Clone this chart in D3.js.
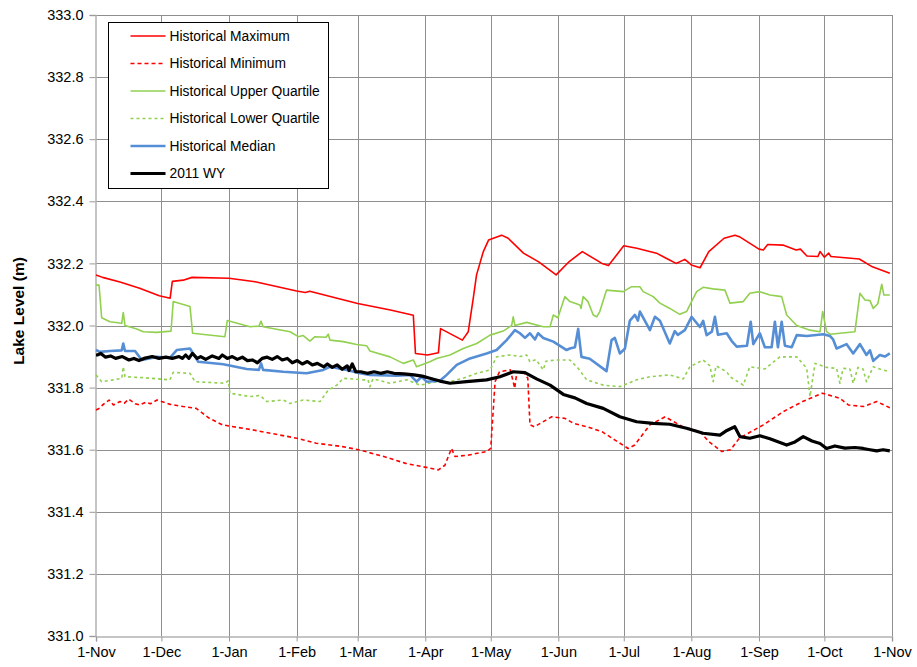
<!DOCTYPE html>
<html>
<head>
<meta charset="utf-8">
<script src="https://cdn.jsdelivr.net/npm/d3@7"></script>
<style>
  body { margin: 0; background: #fff; }
  text { font-family: "Liberation Sans", Arial, sans-serif; fill: #000; }
</style>
</head>
<body>
<div id="chart"></div>
<script>
// water year starts 1-Nov-2010, points are [day since start, lake level m]
var startDate = new Date(2010, 10, 1);
var endDate = new Date(2011, 10, 1);

var histMax = [[0,332.163],[3,332.155],[11,332.14],[20,332.12],[29,332.096],[34,332.088],[35,332.142],[40,332.146],[44,332.155],[61,332.152],[73,332.141],[92,332.111],[96,332.106],[98,332.11],[120,332.071],[135,332.05],[145.5,332.033],[146.5,331.91],[152,331.905],[157,331.912],[158,331.99],[168,331.953],[170.7,331.98],[173,332.088],[174.5,332.163],[177.6,332.238],[180,332.275],[186,332.291],[189,332.281],[196,332.233],[203,332.205],[211,332.163],[217,332.206],[223,332.238],[232,332.2],[235,332.193],[242,332.257],[248,332.249],[257,332.233],[263,332.211],[266,332.2],[270,332.213],[273,332.195],[277,332.186],[281,332.238],[288,332.281],[293,332.291],[295,332.286],[304,332.246],[306,332.243],[308,332.261],[315,332.259],[321,332.243],[323,332.246],[326,332.224],[331,332.222],[332,332.238],[334,332.22],[336,332.233],[337,332.222],[350,332.214],[356,332.189],[364,332.168]];

var histMin = [[0,331.728],[2,331.735],[3,331.744],[6,331.76],[8,331.744],[11,331.755],[13,331.75],[15,331.763],[18,331.748],[20,331.744],[23,331.753],[25,331.748],[28,331.76],[34,331.746],[40,331.739],[46,331.733],[52,331.701],[58,331.68],[63,331.674],[71,331.665],[80,331.653],[92,331.637],[101,331.621],[113,331.61],[121,331.599],[132,331.578],[142,331.556],[150,331.545],[157,331.535],[160,331.55],[163,331.604],[164.6,331.578],[171,331.583],[179,331.594],[181,331.604],[183,331.819],[185,331.851],[190,331.857],[192,331.798],[193,331.851],[196,331.851],[198,331.83],[199,331.68],[201,331.674],[209,331.706],[215,331.701],[219,331.685],[225,331.674],[232,331.658],[238,331.631],[244,331.604],[247,331.615],[254,331.68],[261,331.706],[269,331.674],[277,331.658],[281,331.626],[287,331.594],[291,331.6],[295,331.637],[306,331.68],[315,331.722],[324,331.755],[333,331.782],[341,331.766],[345,331.744],[352,331.739],[358,331.755],[364,331.735]];

var histUpper = [[0,332.13],[1.4,332.13],[2.6,332.025],[6.4,332.012],[11.8,332.007],[12.5,332.042],[13.3,332.0],[18.7,331.989],[21.7,331.98],[27.8,331.978],[34.4,331.982],[35.4,332.077],[43.1,332.061],[44.3,331.975],[59.1,331.964],[60.2,332.016],[70.6,331.996],[74.7,331.998],[75.7,332.014],[76.6,331.996],[89,331.98],[92.8,331.964],[94.9,331.968],[98.1,331.95],[100.4,331.964],[105.5,331.962],[106.5,331.972],[107.3,331.953],[113.4,331.948],[119.5,331.939],[124.1,331.935],[125.6,331.918],[134.8,331.899],[140.9,331.878],[145.5,331.889],[147,331.867],[153.1,331.883],[156.2,331.894],[162.3,331.905],[168.4,331.926],[174.6,331.942],[180.7,331.969],[186.7,331.982],[190.6,332.0],[191.3,332.028],[192.1,332.0],[197.5,332.01],[205.1,331.996],[208.2,331.996],[209.7,332.034],[211.8,332.025],[215,332.093],[217.3,332.077],[221.9,332.066],[222.4,332.055],[223.4,332.093],[225.6,332.077],[228,332.034],[229.6,332.028],[231,332.045],[234.1,332.114],[241.8,332.109],[245.6,332.125],[249.4,332.125],[250.9,332.109],[255.5,332.093],[258.6,332.072],[263.1,332.055],[267.7,332.036],[270.8,332.045],[275.4,332.109],[278.4,332.123],[282.9,332.118],[288.4,332.114],[290.7,332.072],[296.8,332.077],[299.8,332.104],[304.4,332.109],[309,332.098],[314.4,332.093],[316.7,332.034],[321.3,332.0],[327.4,331.985],[332,331.98],[333.2,332.045],[335,331.98],[336.6,331.972],[348,331.98],[350.3,332.104],[352.6,332.082],[354.9,332.08],[356.4,332.055],[358.5,332.07],[360.3,332.133],[361.3,332.098],[364,332.098]];

var histLower = [[0,331.841],[2.6,331.819],[7.9,331.825],[11.8,331.83],[12.5,331.867],[13.3,331.835],[21.7,331.832],[33.9,331.825],[35.4,331.849],[43.1,331.846],[45.4,331.819],[59.1,331.814],[60.7,331.822],[61.4,331.782],[70.6,331.771],[75.2,331.775],[78.3,331.755],[85.9,331.76],[89,331.749],[95,331.76],[102.7,331.755],[106.5,331.792],[110.4,331.808],[113.4,331.83],[122.6,331.825],[124.7,331.825],[125.6,331.803],[127,331.828],[134.8,331.814],[142.5,331.825],[148.6,331.808],[156.2,331.819],[162.3,331.819],[168.4,331.83],[174.6,331.846],[180.7,331.857],[183.7,331.899],[189.8,331.905],[194.4,331.9],[197.5,331.905],[199,331.883],[201.8,331.89],[205.1,331.857],[206.3,331.885],[211.2,331.889],[217.3,331.889],[221.1,331.862],[225,331.825],[232.6,331.808],[240.2,331.803],[247.9,331.825],[254,331.835],[263.1,331.841],[269.3,331.828],[272.3,331.867],[278.4,331.889],[281.5,331.87],[283,331.819],[284.3,331.87],[289.2,331.851],[290.7,331.835],[296.8,331.808],[299.8,331.867],[306.7,331.86],[313.6,331.899],[321.3,331.899],[325.9,331.862],[327.4,331.771],[329.7,331.878],[335,331.865],[339.6,331.862],[341.1,331.814],[342.6,331.862],[345.7,331.86],[347.2,331.814],[349.4,331.865],[351.7,331.86],[353.3,331.819],[356.4,331.867],[359.4,331.86],[364,331.851]];

var histMedian = [[0,331.921],[1.8,331.915],[6.4,331.918],[11.8,331.92],[12.5,331.942],[13.3,331.918],[17.9,331.918],[21,331.889],[27.8,331.899],[33.9,331.896],[37,331.921],[43.1,331.926],[46.9,331.883],[58.4,331.875],[69.1,331.86],[74.7,331.857],[75.7,331.878],[76.6,331.857],[85.9,331.851],[96.6,331.846],[104.2,331.857],[107.3,331.867],[115,331.857],[121,331.846],[125.6,331.841],[137.9,331.838],[144,331.841],[147,331.819],[149.3,331.835],[151.6,331.819],[157.7,331.822],[160.8,331.841],[165.4,331.873],[171.5,331.894],[179.1,331.91],[183.7,331.921],[188.3,331.953],[192.1,331.985],[194.4,331.975],[196.7,331.96],[199,331.975],[201.3,331.955],[202.7,331.975],[205.1,331.96],[209.7,331.948],[215.8,331.921],[217.3,331.926],[219.6,331.93],[221.1,331.989],[222.6,331.899],[226.4,331.893],[234.1,331.853],[236.4,331.953],[237.9,331.96],[240.2,331.91],[242.5,331.925],[244.8,332.016],[247.1,332.034],[248.5,332.016],[249.4,332.045],[251.7,332.015],[254,331.985],[256.3,332.028],[258.6,332.015],[263.1,331.942],[265.4,331.982],[266.8,331.97],[270,331.985],[273.1,332.028],[276.9,331.995],[278.4,332.015],[280,331.969],[282.4,331.98],[283.8,332.028],[285.2,331.97],[289.2,331.975],[291.5,331.95],[293.8,331.932],[298.5,331.935],[300.2,332.012],[301.4,331.94],[304.4,331.975],[306.7,331.93],[309.8,331.93],[311.3,332.012],[312.7,331.93],[314.4,332.012],[315.9,331.935],[319,331.93],[321.3,331.969],[325.9,331.966],[333.5,331.972],[336.6,331.966],[338,331.955],[339.6,331.926],[344.2,331.94],[347.2,331.91],[350.3,331.94],[353.3,331.905],[354.9,331.92],[356.4,331.886],[359.4,331.905],[361.7,331.9],[364,331.91]];

var wy2011 = [[0,331.905],[0.6,331.905],[2.2,331.91],[4.4,331.898],[6.7,331.902],[9,331.894],[12.1,331.9],[15.1,331.889],[17.4,331.894],[19.7,331.887],[22,331.894],[25.8,331.9],[28.9,331.894],[32,331.898],[35,331.894],[38.1,331.9],[39.6,331.894],[41.1,331.905],[42.6,331.894],[44.2,331.91],[46.4,331.894],[48,331.9],[50.3,331.891],[53.3,331.902],[56.4,331.894],[57.9,331.905],[60.2,331.894],[62.5,331.9],[64.8,331.891],[67.1,331.898],[69.4,331.887],[71.7,331.889],[74,331.88],[76.2,331.894],[78.5,331.898],[80.8,331.891],[83.1,331.9],[85.4,331.889],[87.7,331.894],[90,331.88],[92.3,331.887],[94.6,331.876],[96.9,331.884],[99.2,331.873],[101.5,331.878],[104.5,331.867],[106.1,331.876],[108.3,331.865],[110.6,331.873],[112.9,331.859],[115.2,331.87],[116,331.855],[117.5,331.876],[119.1,331.851],[121.4,331.851],[124.4,331.846],[127.5,331.851],[130.5,331.846],[133.6,331.851],[136.6,331.846],[141.2,331.844],[145.8,331.841],[149.6,331.837],[153.1,331.83],[157.7,331.821],[162.3,331.814],[169.9,331.819],[179.1,331.825],[185.2,331.835],[191.3,331.851],[196.7,331.848],[202,331.828],[208.2,331.808],[214.3,331.778],[219.6,331.767],[225,331.749],[232.6,331.733],[240.2,331.706],[247.9,331.69],[255.5,331.685],[263.1,331.682],[270.8,331.669],[278.4,331.653],[286.1,331.647],[289.3,331.662],[292.9,331.674],[295.3,331.642],[299.8,331.637],[304.4,331.645],[309,331.635],[316.7,331.615],[320.5,331.625],[324.3,331.642],[328.3,331.628],[332,331.62],[335,331.604],[338.8,331.612],[343.4,331.605],[348,331.607],[351.8,331.604],[354.9,331.6],[358,331.596],[360.9,331.6],[364,331.596]];

var yTicks = [331.0, 331.2, 331.4, 331.6, 331.8, 332.0, 332.2, 332.4, 332.6, 332.8, 333.0];

var series = [
  {name: "Historical Maximum", data: histMax, color: "#ff0000", width: 1.6, dash: ""},
  {name: "Historical Minimum", data: histMin, color: "#ff0000", width: 1.6, dash: "4 3"},
  {name: "Historical Upper Quartile", data: histUpper, color: "#92d050", width: 1.6, dash: ""},
  {name: "Historical Lower Quartile", data: histLower, color: "#92d050", width: 1.6, dash: "3 3"},
  {name: "Historical Median", data: histMedian, color: "#558ed5", width: 2.6, dash: ""},
  {name: "2011 WY", data: wy2011, color: "#000000", width: 3.2, dash: ""}
];

var width = 917;
var height = 667;
var margin = {top: 15, right: 25, bottom: 31, left: 96};

var svg = d3.select("#chart")
  .append("svg")
    .attr("width", width)
    .attr("height", height);

var x = d3.scaleTime()
  .domain([startDate, endDate])
  .range([margin.left, width - margin.right]);

var y = d3.scaleLinear()
  .domain([331.0, 333.0])
  .range([height - margin.bottom, margin.top]);

function toDate(day) {
  return new Date(startDate.getTime() + day * 864e5);
}

var monthTicks = d3.timeMonth.range(startDate, d3.timeDay.offset(endDate, 1));

// gridlines
var grid = svg.append("g").attr("stroke", "#8f8f8f").attr("stroke-width", 1);
grid.selectAll(".hgrid")
  .data(yTicks.slice(1))
  .enter().append("line")
    .attr("x1", margin.left)
    .attr("x2", width - margin.right)
    .attr("y1", function (d) { return Math.round(y(d)) + 0.5; })
    .attr("y2", function (d) { return Math.round(y(d)) + 0.5; });
grid.selectAll(".vgrid")
  .data(monthTicks.slice(1))
  .enter().append("line")
    .attr("x1", function (d) { return Math.round(x(d)) + 0.5; })
    .attr("x2", function (d) { return Math.round(x(d)) + 0.5; })
    .attr("y1", margin.top)
    .attr("y2", height - margin.bottom);

// axes
var yAxis = svg.append("g")
  .attr("transform", "translate(" + (margin.left - 0.5) + ",0)")
  .call(d3.axisLeft(y).tickValues(yTicks).tickFormat(d3.format(".1f")).tickSize(6).tickPadding(6));

var xAxis = svg.append("g")
  .attr("transform", "translate(0," + (Math.round(y(331.0)) + 0.5) + ")")
  .call(d3.axisBottom(x).tickValues(monthTicks).tickFormat(d3.timeFormat("1-%b")).tickSize(5).tickPadding(5));

[yAxis, xAxis].forEach(function (a) {
  a.select(".domain").attr("stroke", "#b3b3b3").attr("stroke-width", 1.5);
  a.selectAll(".tick line").attr("stroke", "#999");
  a.selectAll(".tick text")
    .style("font-family", "'Liberation Sans', Arial, sans-serif")
    .style("font-size", "14.5px")
    .attr("fill", "#000");
});

svg.append("text")
  .attr("transform", "translate(24," + 311 + ") rotate(-90)")
  .attr("text-anchor", "middle")
  .style("font-size", "15.5px")
  .style("font-weight", "bold")
  .text("Lake Level (m)");

// series lines
var line = d3.line()
  .x(function (d) { return x(toDate(d[0])); })
  .y(function (d) { return y(d[1]); });

svg.append("g")
  .selectAll("path")
  .data(series)
  .enter().append("path")
    .attr("fill", "none")
    .attr("stroke", function (d) { return d.color; })
    .attr("stroke-width", function (d) { return d.width; })
    .attr("stroke-dasharray", function (d) { return d.dash; })
    .attr("stroke-linejoin", "round")
    .attr("d", function (d) { return line(d.data); });

// legend
var legend = svg.append("g").attr("transform", "translate(108.5,22.5)");
legend.append("rect")
  .attr("width", 220)
  .attr("height", 166)
  .attr("fill", "#fff")
  .attr("stroke", "#000")
  .attr("stroke-width", 1);

var item = legend.selectAll(".item")
  .data(series)
  .enter().append("g")
    .attr("transform", function (d, i) { return "translate(0," + (13.5 + i * 27.5) + ")"; });

item.append("line")
  .attr("x1", 22)
  .attr("x2", 57)
  .attr("stroke", function (d) { return d.color; })
  .attr("stroke-width", function (d) { return d.width; })
  .attr("stroke-dasharray", function (d) { return d.dash; });

item.append("text")
  .attr("x", 61)
  .attr("dy", "0.35em")
  .style("font-size", "13.8px")
  .text(function (d) { return d.name; });
</script>
</body>
</html>
